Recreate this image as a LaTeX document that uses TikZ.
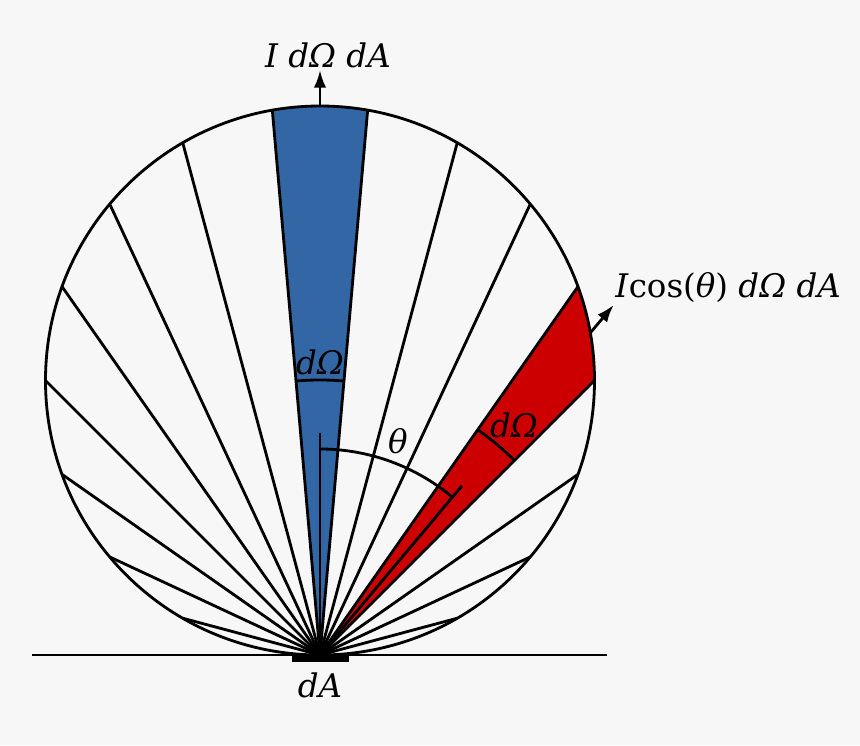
\documentclass[tikz,border=0pt]{standalone}
\usepackage{fontspec}
\setmainfont{DejaVu Serif}
\usetikzlibrary{arrows.meta, calc}
\definecolor{paper}{RGB}{247,247,247}
\definecolor{beamblue}{RGB}{51,102,165}
\definecolor{beamred}{RGB}{204,0,0}

\begin{document}
\begin{tikzpicture}[x=0.02cm, y=0.02cm, line width=1.6pt,
    lbl/.style={font=\fontsize{18.5}{22}\selectfont\itshape, inner sep=0pt},
    outarrow/.style={-{Latex[length=10pt, width=7pt]}}]
    \fill[paper] (-320,-90) rectangle (540,655);
    \useasboundingbox (-320,-90) rectangle (540,655);

    \coordinate (o) at (0,0);
    \coordinate (c) at (0,274.5);
    \coordinate (top) at ($(c)+(90:274.5)$);
    \coordinate (rim) at ($(c)+(10:274.5)$);
    \coordinate (toptip) at (0,585);
    \coordinate (rimtip) at (50:457);

    \fill[beamblue] (o) -- ($(c)+(100:274.5)$) arc[start angle=100, end angle=80, radius=274.5] -- cycle;
    \fill[beamred] (o) -- ($(c)+(20:274.5)$) arc[start angle=20, end angle=0, radius=274.5] -- cycle;

    \foreach \a in {-75,-65,...,75}
      \draw (o) -- ($(c)+({90-2*\a}:274.5)$);
    \draw (c) circle[radius=274.5];

    \draw (o) ++(85:275) arc[start angle=85, end angle=95, radius=275];
    \draw (o) ++(55:275) arc[start angle=55, end angle=45, radius=275];
    \path (0,293) node[lbl] (dwblue) {dΩ};
    \path (194,230) node[lbl] (dwred) {dΩ};

    \draw (o) -- (90:222);
    \draw (o) -- (50:221);
    \draw (o) ++(90:206) arc[start angle=90, end angle=50, radius=206];
    \path (78,214) node[lbl] (theta) {θ};

    \draw[outarrow] (top) -- (toptip);
    \draw[outarrow] (rim) -- (rimtip);
    \path (8,600) node[lbl] (toplbl) {I dΩ dA};
    \path (294,367) node[lbl, anchor=west] (rimlbl) {I\textup{cos(}θ\textup{)} dΩ dA};

    \draw (-288,0) -- (287,0);
    \fill (-28,-7) rectangle (29,0);
    \path (0,-30) node[lbl] (da) {dA};
\end{tikzpicture}
\end{document}
